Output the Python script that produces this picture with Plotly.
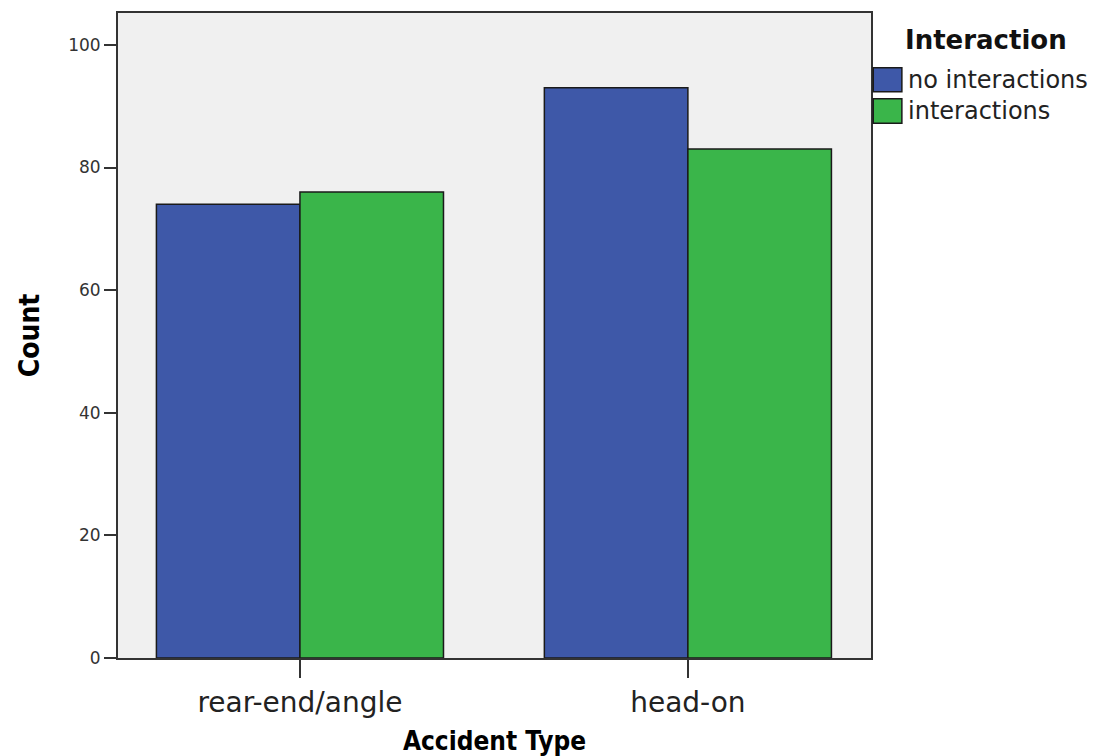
import plotly.graph_objs as go

# accident types and counts per interaction group
categories = ['rear-end/angle', 'head-on']
no_interactions = [74, 93]
interactions = [76, 83]

series_names = ['no interactions', 'interactions']
series_colors = ['#3e58a8', '#3ab54a']
legend_title = 'Interaction'

condensed = 'DejaVu Sans Condensed, Liberation Sans Narrow, sans-serif'

data = [
    go.Bar(
        x=categories, y=no_interactions, name=series_names[0],
        marker=dict(color=series_colors[0], line=dict(color='#1a1a1a', width=1.5))
    ),
    go.Bar(
        x=categories, y=interactions, name=series_names[1],
        marker=dict(color=series_colors[1], line=dict(color='#1a1a1a', width=1.5))
    ),
]

# hand-drawn legend, SPSS style (big square swatches next to the plot)
shapes = []
annotations = [
    dict(text='<b>' + legend_title + '</b>', xref='paper', yref='paper',
         x=1.043, y=0.958, xanchor='left', yanchor='middle', showarrow=False,
         font=dict(size=26, color='#111'))
]
sw_top = [0.915, 0.867]
sw_bot = [0.878, 0.829]
for i in range(2):
    shapes.append(dict(type='rect', xref='paper', yref='paper',
                       x0=1.003, x1=1.041, y0=sw_bot[i], y1=sw_top[i],
                       fillcolor=series_colors[i], line=dict(color='#1a1a1a', width=1.5)))
    annotations.append(dict(text=series_names[i], xref='paper', yref='paper',
                            x=1.046, y=(sw_top[i] + sw_bot[i]) / 2,
                            xanchor='left', yanchor='middle', showarrow=False,
                            font=dict(size=24, color='#222')))

layout = go.Layout(
    width=1093, height=748,
    margin=dict(l=110, r=230, t=5, b=98, autoexpand=False),
    paper_bgcolor='white',
    plot_bgcolor='#f0f0f0',
    barmode='group',
    bargap=0.26,
    bargroupgap=0,
    showlegend=False,
    font=dict(family='DejaVu Sans, sans-serif', color='#222'),
    xaxis=dict(
        type='category',
        range=[-0.469, 1.472],
        automargin=False,
        showline=True, linecolor='#333', linewidth=2, mirror=True,
        ticks='outside', ticklen=18, tickwidth=2, tickcolor='#333',
        tickfont=dict(size=28, color='#222'),
        title=dict(text='<b>Accident Type</b>',
                   font=dict(family=condensed, size=26, color='black'),
                   standoff=14),
        showgrid=False,
    ),
    yaxis=dict(
        range=[0, 105.2],
        tickvals=[0, 20, 40, 60, 80, 100],
        automargin=False,
        showline=True, linecolor='#333', linewidth=2, mirror=True,
        ticks='outside', ticklen=12, tickwidth=2, tickcolor='#333',
        tickfont=dict(size=17, color='#333'),
        title=dict(text='<b>Count</b>',
                   font=dict(family=condensed, size=28, color='black'),
                   standoff=20),
        showgrid=False, zeroline=False,
    ),
    shapes=shapes,
    annotations=annotations,
)

fig = go.Figure(data, layout)
fig.write_html('out.html')
